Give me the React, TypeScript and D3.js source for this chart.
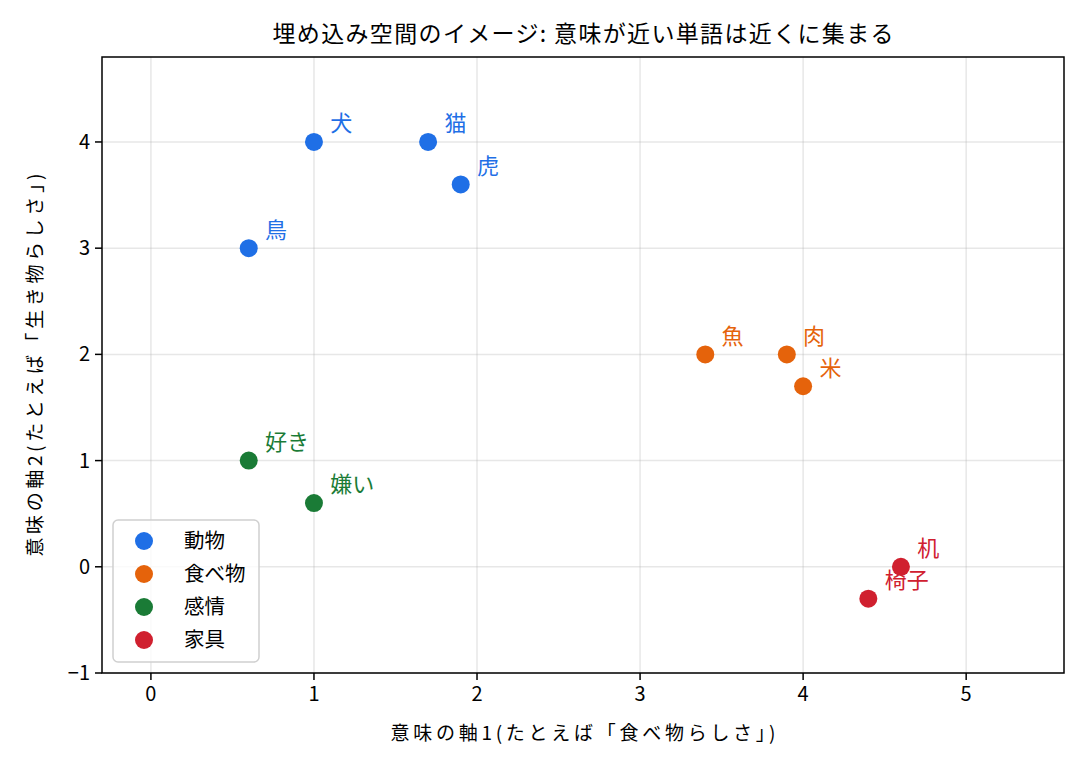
import * as d3 from "d3";

// word embedding toy data
const categories = ["動物", "食べ物", "感情", "家具"];
const colors = ["#1f6fe6", "#e5630b", "#1a7b36", "#d0202f"];

const words = ["犬", "猫", "虎", "鳥", "魚", "肉", "米", "好き", "嫌い", "机", "椅子"];
const wordX = [1.0, 1.7, 1.9, 0.6, 3.4, 3.9, 4.0, 0.6, 1.0, 4.6, 4.4];
const wordY = [4.0, 4.0, 3.6, 3.0, 2.0, 2.0, 1.7, 1.0, 0.6, 0.0, -0.3];
const wordCat = [0, 0, 0, 0, 1, 1, 1, 2, 2, 3, 3];

const xTicks = [0, 1, 2, 3, 4, 5];
const yTicks = [-1, 0, 1, 2, 3, 4];

const title = "埋め込み空間のイメージ: 意味が近い単語は近くに集まる";
const xLabel = "意味の軸1(たとえば「食べ物らしさ」)";
const yLabel = "意味の軸2(たとえば「生き物らしさ」)";

const W = 1088;
const H = 768;
const m = { left: 102, right: 1064, top: 57, bottom: 673 };
const font = "'Noto Sans CJK JP', 'Noto Sans', sans-serif";

const fmt = (v: number) => (v < 0 ? "\u2212" + Math.abs(v) : String(v));

export default function App() {
  const x = d3.scaleLinear().domain([-0.3, 5.6]).range([m.left, m.right]);
  const y = d3.scaleLinear().domain([-1, 4.8]).range([m.bottom, m.top]);

  return (
    <div style={{ position: "absolute", left: 0, top: 0 }}>
      <svg width={W} height={H} style={{ display: "block", background: "#fff" }} fontFamily={font}>
        <rect x={0} y={0} width={W} height={H} fill="#fff" />
        {/* grid */}
        {xTicks.map((t) => (
          <line key={"gx" + t} x1={x(t)} x2={x(t)} y1={m.top} y2={m.bottom} stroke="#b0b0b0" strokeOpacity={0.3} strokeWidth={1.5} />
        ))}
        {yTicks.map((t) => (
          <line key={"gy" + t} x1={m.left} x2={m.right} y1={y(t)} y2={y(t)} stroke="#b0b0b0" strokeOpacity={0.3} strokeWidth={1.5} />
        ))}

        {/* points */}
        {words.map((w, i) => (
          <circle key={"p" + i} cx={x(wordX[i])} cy={y(wordY[i])} r={9} fill={colors[wordCat[i]]} />
        ))}
        {words.map((w, i) => (
          <text key={"t" + i} x={x(wordX[i] + 0.1)} y={y(wordY[i] + 0.1)} fontSize={22} fill={colors[wordCat[i]]}>
            {w}
          </text>
        ))}

        {/* axes frame */}
        <rect x={m.left} y={m.top} width={m.right - m.left} height={m.bottom - m.top} fill="none" stroke="#000" strokeWidth={1.5} />

        {xTicks.map((t) => (
          <g key={"xt" + t} transform={`translate(${x(t)},${m.bottom})`}>
            <line y1={0} y2={7} stroke="#000" strokeWidth={1.5} />
            <text y={28} textAnchor="middle" fontSize={20} fill="#000">{fmt(t)}</text>
          </g>
        ))}
        {yTicks.map((t) => (
          <g key={"yt" + t} transform={`translate(${m.left},${y(t)})`}>
            <line x1={0} x2={-7} stroke="#000" strokeWidth={1.5} />
            <text x={-12} dy="0.35em" textAnchor="end" fontSize={20} fill="#000">{fmt(t)}</text>
          </g>
        ))}

        <text x={(m.left + m.right) / 2} y={42} textAnchor="middle" fontSize={23} fill="#000"
          textLength={621} lengthAdjust="spacing">{title}</text>
        <text x={(m.left + m.right) / 2} y={740} textAnchor="middle" fontSize={19} fill="#000"
          textLength={385} lengthAdjust="spacing">{xLabel}</text>
        <text transform={`translate(42,${(m.top + m.bottom) / 2}) rotate(-90)`} textAnchor="middle" fontSize={19} fill="#000"
          textLength={383} lengthAdjust="spacing">{yLabel}</text>

        {/* legend */}
        <g>
          <rect x={113} y={520} width={146} height={142} rx={5} fill="#fff" fillOpacity={0.8} stroke="#d0d0d0" strokeWidth={1.5} />
          {categories.map((c, i) => (
            <g key={"l" + c} transform={`translate(0,${541 + i * 33})`}>
              <circle cx={144} cy={0} r={9} fill={colors[i]} />
              <text x={184} dy="0.35em" fontSize={20.5} fill="#000">{c}</text>
            </g>
          ))}
        </g>
      </svg>
    </div>
  );
}
